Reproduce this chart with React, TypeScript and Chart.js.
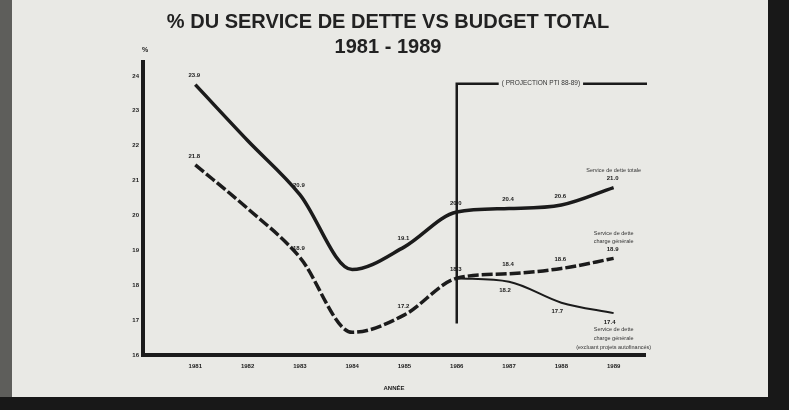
import { useEffect, useRef } from "react";
import { Chart, registerables } from "chart.js";

Chart.register(...registerables);

// ---------- data ----------
const years = [1981, 1982, 1983, 1984, 1985, 1986, 1987, 1988, 1989];
const totalDebt = [23.75, 22.15, 20.6, 18.45, 19.1, 20.1, 20.2, 20.3, 20.8];
const generalDebt = [21.45, 20.2, 18.8, 16.65, 17.15, 18.2, 18.33, 18.48, 18.77];
const exclDebt = [null, null, null, null, null, 18.2, 18.1, 17.5, 17.2];

const totalLabels = ["23.9", null, "20.9", null, "19.1", "20.0", "20.4", "20.6", "21.0"];
const generalLabels = ["21.8", null, "18.9", null, "17.2", "18.3", "18.4", "18.6", "18.9"];
const exclLabels = [null, null, null, null, null, null, "18.2", "17.7", "17.4"];

const totalName = ["Service de dette totale"];
const generalName = ["Service de dette", "charge générale"];
const exclName = ["Service de dette", "charge générale", "(excluant projets autofinancés)"];

const yTicks = [16, 17, 18, 19, 20, 21, 22, 23, 24];
const projectionYear = 1986;
const projectionRange = [16.9, 23.78];
const projectionText = "( PROJECTION PTI 88-89)";

const titleLines = ["% DU SERVICE DE DETTE VS BUDGET TOTAL", "1981 - 1989"];
const xTitle = "ANNÉE";
const yUnit = "%";

// ---------- style ----------
const FONT = "'Liberation Sans', Arial, sans-serif";
const INK = "#1b1b1b";
const PAPER = "#e9e9e5";

export default function App() {
  const ref = useRef<HTMLCanvasElement>(null);

  useEffect(() => {
    const canvas = ref.current;
    if (!canvas) return;
    const pts = (arr: (number | null)[]) => years.map((x, i) => ({ x, y: arr[i] }));

    const decor = {
      id: "decor",
      beforeDraw(chart: any) {
        const { ctx, width, height } = chart;
        ctx.save();
        ctx.fillStyle = "#181818";
        ctx.fillRect(0, 0, width, height);
        ctx.fillStyle = "#5e5e5b";
        ctx.fillRect(0, 0, 14, 397);
        ctx.fillStyle = PAPER;
        ctx.fillRect(12, 0, 756, 397);
        ctx.restore();
      },
      beforeDatasetsDraw(chart: any) {
        const { ctx, scales, chartArea } = chart;
        const x = scales.x.getPixelForValue(projectionYear);
        const yTop = scales.y.getPixelForValue(projectionRange[1]);
        const yBot = scales.y.getPixelForValue(projectionRange[0]);
        ctx.save();
        ctx.strokeStyle = INK;
        ctx.lineWidth = 2.5;
        ctx.beginPath();
        ctx.moveTo(x, yBot);
        ctx.lineTo(x, yTop);
        ctx.lineTo(chartArea.right + 2, yTop);
        ctx.stroke();
        ctx.font = `6.5px ${FONT}`;
        ctx.textAlign = "center";
        ctx.textBaseline = "middle";
        const cx = (x + chartArea.right) / 2 - 10;
        const w = ctx.measureText(projectionText).width;
        ctx.fillStyle = PAPER;
        ctx.fillRect(cx - w / 2 - 3, yTop - 4, w + 6, 8);
        ctx.fillStyle = "#333";
        ctx.fillText(projectionText, cx, yTop);
        ctx.restore();
      },
      afterDatasetsDraw(chart: any) {
        const { ctx, scales, chartArea } = chart;
        const sx = scales.x, sy = scales.y;
        ctx.save();
        ctx.fillStyle = INK;
        ctx.textAlign = "center";
        ctx.textBaseline = "middle";
        ctx.font = `bold 6px ${FONT}`;
        const put = (vals: (number | null)[], labels: (string | null)[], dy: number, dx: number) => {
          labels.forEach((t, i) => {
            const v = vals[i];
            if (t == null || v == null) return;
            ctx.fillText(t, sx.getPixelForValue(years[i]) + dx, sy.getPixelForValue(v) + dy);
          });
        };
        put(totalDebt, totalLabels, -9, -1);
        put(generalDebt, generalLabels, -9, -1);
        put(exclDebt, exclLabels, 9, -4);

        // series names near the end points
        ctx.font = `5.5px ${FONT}`;
        ctx.fillStyle = "#333";
        const last = years.length - 1;
        const xe = sx.getPixelForValue(years[last]);
        const yt = sy.getPixelForValue(totalDebt[last]) - 17;
        totalName.forEach((t, i) => ctx.fillText(t, xe, yt - (totalName.length - 1 - i) * 8));
        const yg = sy.getPixelForValue(generalDebt[last]) - 17;
        generalName.forEach((t, i) => ctx.fillText(t, xe, yg - (generalName.length - 1 - i) * 8));
        const yx = sy.getPixelForValue(exclDebt[last] as number) + 16;
        exclName.forEach((t, i) => ctx.fillText(t, xe, yx + i * 9));

        // unit
        ctx.font = `bold 7px ${FONT}`;
        ctx.fillStyle = INK;
        ctx.fillText(yUnit, chartArea.left + 2, chartArea.top - 12);

        // title
        ctx.font = `bold 20px ${FONT}`;
        ctx.fillStyle = "#222";
        ctx.fillText(titleLines[0], 388, 22);
        ctx.fillText(titleLines[1], 388, 47);
        ctx.restore();
      },
    };

    const chart = new Chart(canvas, {
      type: "line",
      data: {
        datasets: [
          {
            label: "Service de dette totale",
            data: pts(totalDebt),
            borderColor: INK,
            borderWidth: 3.5,
            pointRadius: 0,
            cubicInterpolationMode: "monotone",
            fill: false,
          },
          {
            label: "Service de dette charge générale",
            data: pts(generalDebt),
            borderColor: INK,
            borderWidth: 3.5,
            borderDash: [11, 3],
            pointRadius: 0,
            cubicInterpolationMode: "monotone",
            fill: false,
          },
          {
            label: "Service de dette charge générale (excluant projets autofinancés)",
            data: pts(exclDebt),
            borderColor: INK,
            borderWidth: 2,
            pointRadius: 0,
            cubicInterpolationMode: "monotone",
            fill: false,
          },
        ],
      },
      options: {
        responsive: false,
        animation: false,
        devicePixelRatio: 1,
        layout: { padding: { left: 120, right: 144, top: 62, bottom: 15 } },
        plugins: { legend: { display: false }, tooltip: { enabled: false }, title: { display: false } },
        scales: {
          x: {
            type: "linear",
            min: 1980,
            max: 1989.6,
            grid: { display: false, drawTicks: false },
            border: { display: true, color: INK, width: 4 },
            afterBuildTicks: (s: any) => {
              s.ticks = years.map((v) => ({ value: v }));
            },
            afterFit: (s: any) => {
              s.height = 40;
            },
            ticks: {
              padding: 8,
              color: INK,
              font: { family: FONT, size: 6, weight: "bold" },
              callback: (v: any) => String(v),
              maxRotation: 0,
              autoSkip: false,
            },
            title: {
              display: true,
              text: xTitle,
              color: INK,
              font: { family: FONT, size: 6, weight: "bold" },
              padding: { top: 0, bottom: 3 },
            },
          },
          y: {
            type: "linear",
            min: 16,
            max: 24.4,
            grid: { display: false, drawTicks: false },
            border: { display: true, color: INK, width: 4 },
            afterBuildTicks: (s: any) => {
              s.ticks = yTicks.map((v) => ({ value: v }));
            },
            afterFit: (s: any) => {
              s.width = 23;
            },
            ticks: {
              padding: 4,
              color: INK,
              font: { family: FONT, size: 6, weight: "bold" },
              callback: (v: any) => String(v),
            },
          },
        },
      },
      plugins: [decor],
    } as any);

    return () => chart.destroy();
  }, []);

  return (
    <div style={{ position: "fixed", left: 0, top: 0, width: 789, height: 410 }}>
      <canvas ref={ref} width={789} height={410} style={{ display: "block" }} />
    </div>
  );
}
